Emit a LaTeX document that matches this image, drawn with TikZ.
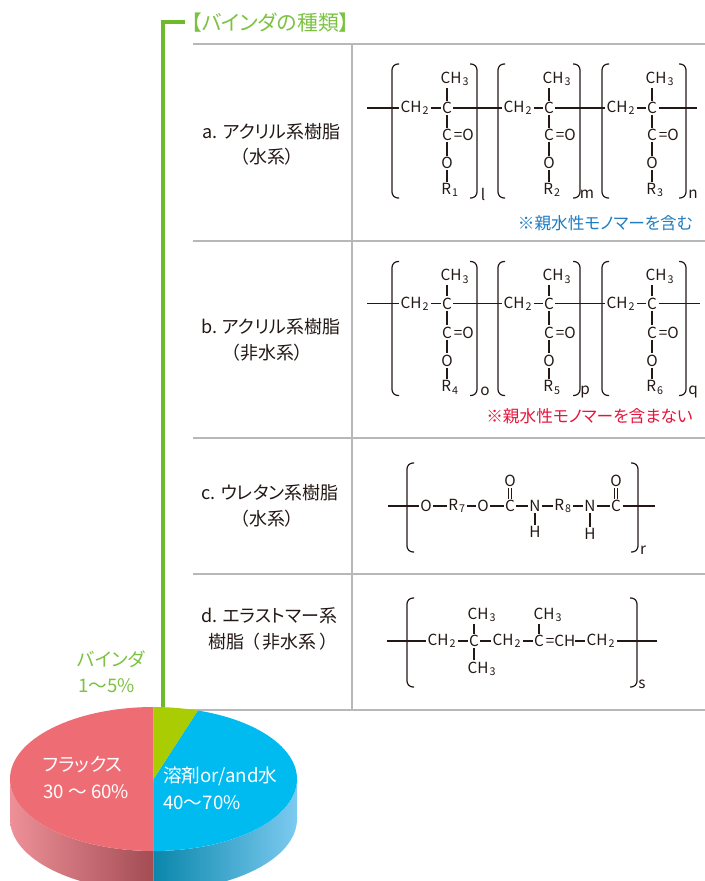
\documentclass[tikz,border=0pt]{standalone}
\usepackage{fontspec}
\setmainfont[RawFeature=+palt]{Noto Sans CJK JP}
\definecolor{rulegray}{RGB}{184, 184, 184}
\definecolor{bindergreen}{RGB}{111, 186, 44}
\definecolor{titlegreen}{RGB}{124, 194, 66}
\definecolor{inkblack}{RGB}{35, 24, 21}
\definecolor{noteblue}{RGB}{30, 125, 195}
\definecolor{notered}{RGB}{230, 20, 60}
\definecolor{fluxred}{RGB}{238, 109, 117}
\definecolor{fluxlight}{RGB}{238, 144, 152}
\definecolor{fluxdark}{RGB}{163, 76, 84}
\definecolor{solventblue}{RGB}{0, 187, 240}
\definecolor{solventlight}{RGB}{124, 202, 240}
\definecolor{solventdark}{RGB}{10, 134, 171}
\definecolor{pieslice}{RGB}{170, 204, 3}
\tikzset{
  rowlabel/.style={font=\fontsize{13.5}{15}\selectfont, text=inkblack, inner sep=0pt},
  atom/.style={font=\fontsize{11.5}{13}\selectfont, text=inkblack, inner sep=1pt},
  bond/.style={inkblack, line width=0.85pt},
  rulerline/.style={rulegray, line width=1.1pt},
  polybracket/.style={inkblack, line width=0.9pt, rounded corners=4.5pt},
  noteline/.style={font=\fontsize{12.5}{14}\selectfont, inner sep=0pt, anchor=east},
  pietext/.style={font=\fontsize{14}{16}\selectfont, text=white, inner sep=0pt, anchor=west},
  greentext/.style={font=\fontsize{14}{16}\selectfont, text=titlegreen, inner sep=0pt, anchor=west}
}
\newcommand{\polybrk}[4]{%
  \draw[polybracket] ({#1+7},#3) -- (#1,#3) -- (#1,#4) -- ({#1+7},#4);
  \draw[polybracket] ({#2-7},#3) -- (#2,#3) -- (#2,#4) -- ({#2-7},#4);
}
\newcommand{\chemsub}[1]{\kern0.8pt\textsubscript{#1}}
\begin{document}
\begin{tikzpicture}[x=0.75pt, y=-0.75pt]
  \clip (0, 0) rectangle (705, 881);
  \useasboundingbox (0, 0) rectangle (705, 881);

  % green leader and title
  \coordinate (leadtop) at (185, 22);
  \coordinate (leadcorner) at (163, 22);
  \coordinate (leadend) at (163, 712);
  \draw[bindergreen, line width=2.6pt] (leadtop) -- (leadcorner) -- (leadend);
  \node[greentext, font=\fontsize{15.6}{17}\selectfont] (title) at (191, 23) {【バインダの種類】};

  % table rules
  \draw[rulerline] (193, 44) -- (705, 44);
  \draw[rulerline] (193, 241) -- (705, 241);
  \draw[rulerline] (193, 438) -- (705, 438);
  \draw[rulerline] (193, 574) -- (705, 574);
  \draw[rulerline] (163, 710) -- (705, 710);
  \draw[rulerline] (352, 44) -- (352, 710);

  % row labels
  \node[rowlabel, anchor=west] (rowa) at (202, 132) {a. アクリル系樹脂};
  \node[rowlabel] (rowasub) at (267, 157) {（水系）};
  \node[rowlabel, anchor=west] (rowb) at (201, 327) {b. アクリル系樹脂};
  \node[rowlabel] (rowbsub) at (267, 353) {（非水系）};
  \node[rowlabel, anchor=west] (rowc) at (201, 493) {c. ウレタン系樹脂};
  \node[rowlabel] (rowcsub) at (267, 519) {（水系）};
  \node[rowlabel, anchor=west] (rowd) at (201, 616) {d. エラストマー系};
  \node[rowlabel, anchor=west] (rowdsub) at (208, 642) {樹脂\kern5pt（\kern2pt非水系\kern3pt）};

  % acrylic units, rows a and b
  \foreach \u/\y/\z/\xl/\xh/\xc/\xr/\rn/\idx/\xi in {
    1/108/108/392/415/447/477/1/l/483, 2/108/108/498/518/549/580/2/m/587, 3/108/108/602/621/652/686/3/n/693,
    4/303.5/305.5/392/415/447/477/4/o/485, 5/303.5/305.5/498/518/549/580/5/p/585, 6/303.5/305.5/602/621/652/686/6/q/693}
  {
    \polybrk{\xl}{\xr}{\z-44}{\z+90}
    \node[atom] (h\u) at (\xh, \y) {CH\chemsub{2}};
    \node[atom] (c\u) at (\xc, \y) {C};
    \node[atom] (me\u) at ({\xc+8}, {\z-29}) {CH\chemsub{3}};
    \node[atom] (co\u) at (\xc, {\z+27}) {C};
    \node[atom, anchor=west, inner sep=0pt] (dbl\u) at (co\u.east) {=O};
    \node[atom] (ox\u) at (\xc, {\z+55}) {O};
    \node[atom] (r\u) at ({\xc+3}, {\z+82}) {R\chemsub{\rn}};
    \node[atom] (idx\u) at (\xi, {\z+86}) {\idx};
    \draw[bond] (h\u) -- (c\u);
    \draw[bond] (c\u) -- (c\u |- me\u.south);
    \draw[bond] (c\u) -- (co\u);
    \draw[bond] (co\u) -- (ox\u);
    \draw[bond] (ox\u) -- (ox\u |- r\u.north);
  }
  \coordinate (froma) at (367, 108);
  \coordinate (toa) at (697, 108);
  \coordinate (fromb) at (367, 303.5);
  \coordinate (tob) at (700, 303.5);
  \draw[bond] (froma) -- (h1);
  \draw[bond] (c1) -- (h2);
  \draw[bond] (c2) -- (h3);
  \draw[bond] (c3) -- (toa);
  \draw[bond] (fromb) -- (h4);
  \draw[bond] (c4) -- (h5);
  \draw[bond] (c5) -- (h6);
  \draw[bond] (c6) -- (tob);

  \node[noteline, text=noteblue] (notea) at (693, 223) {※親水性モノマーを含む};
  \node[noteline, text=notered] (noteb) at (693, 416) {※親水性モノマーを含まない};

  % urethane
  \polybrk{407}{638}{463}{552}
  \coordinate (fromc) at (388, 506);
  \coordinate (toc) at (655, 506);
  \node[atom] (uo1) at (426, 506) {O};
  \node[atom] (ur7) at (457, 506) {R\chemsub{7}};
  \node[atom] (uo2) at (483, 506) {O};
  \node[atom] (uc1) at (510, 506) {C};
  \node[atom] (uo3) at (510, 481) {O};
  \node[atom] (un1) at (535, 506) {N};
  \node[atom] (uh1) at (535, 532) {H};
  \node[atom] (ur8) at (563, 506) {R\chemsub{8}};
  \node[atom] (un2) at (590, 506) {N};
  \node[atom] (uh2) at (590, 534) {H};
  \node[atom] (uc2) at (616, 506) {C};
  \node[atom] (uo4) at (616, 481) {O};
  \node[atom] (idxr) at (643, 550) {r};
  \draw[bond] (fromc) -- (uo1);
  \draw[bond] (uo1) -- (ur7);
  \draw[bond] (ur7) -- (uo2);
  \draw[bond] (uo2) -- (uc1);
  \draw[bond] (uc1) -- (un1);
  \draw[bond] (un1) -- (ur8);
  \draw[bond] (ur8) -- (un2);
  \draw[bond] (un2) -- (uc2);
  \draw[bond] (uc2) -- (toc);
  \draw[bond] (un1) -- (uh1);
  \draw[bond] (un2) -- (uh2);
  \draw[bond, double, double distance=1.6pt, line width=0.5pt] (uc1) -- (uo3);
  \draw[bond, double, double distance=1.6pt, line width=0.5pt] (uc2) -- (uo4);

  % elastomer
  \polybrk{407}{637}{598}{687}
  \coordinate (fromd) at (387, 641);
  \coordinate (tod) at (657, 641);
  \node[atom] (eh1) at (442, 641) {CH\chemsub{2}};
  \node[atom] (ec1) at (474, 641) {C};
  \node[atom] (eme1) at (482, 615) {CH\chemsub{3}};
  \node[atom] (eme2) at (482, 669) {CH\chemsub{3}};
  \node[atom] (eh2) at (507, 641) {CH\chemsub{2}};
  \node[atom] (ec2) at (539, 641) {C};
  \node[atom] (eme3) at (548, 615) {CH\chemsub{3}};
  \node[atom, anchor=west, inner sep=0pt] (ech) at (ec2.east) {=CH};
  \node[atom] (eh3) at (601, 641) {CH\chemsub{2}};
  \node[atom] (idxs) at (642, 684) {s};
  \draw[bond] (fromd) -- (eh1);
  \draw[bond] (eh1) -- (ec1);
  \draw[bond] (ec1) -- (eh2);
  \draw[bond] (eh2) -- (ec2);
  \draw[bond] (ech) -- (eh3);
  \draw[bond] (eh3) -- (tod);
  \draw[bond] (ec1) -- (ec1 |- eme1.south);
  \draw[bond] (ec1) -- (ec1 |- eme2.north);
  \draw[bond] (ec2) -- (ec2 |- eme3.south);

  % pie
  \begin{scope}[shift={(153.5, 779)}, x=0.75pt, y=0.75pt]
    \shade[left color=fluxlight, right color=fluxdark]
      (-143.5, 0) arc[start angle=180, end angle=270, x radius=143.5, y radius=72]
      -- (0, -112) arc[start angle=270, end angle=180, x radius=143.5, y radius=72] -- cycle;
    \shade[left color=solventdark, right color=solventlight]
      (143.5, 0) arc[start angle=0, end angle=-90, x radius=143.5, y radius=72]
      -- (0, -112) arc[start angle=-90, end angle=0, x radius=143.5, y radius=72] -- cycle;
    \fill[fluxred] (0, 72) arc[start angle=90, end angle=270, x radius=143.5, y radius=72] -- cycle;
    \fill[solventblue] (0, 0) -- (44.3, 68.5) arc[start angle=72, end angle=-90, x radius=143.5, y radius=72] -- cycle;
    \fill[pieslice] (0, 0) -- (0, 72) arc[start angle=90, end angle=72, x radius=143.5, y radius=72] -- cycle;
  \end{scope}

  \node[greentext] (bindername) at (77, 659) {バインダ};
  \node[greentext] (binderval) at (78, 686) {1〜5\%};
  \node[pietext] (fluxname) at (43, 765) {フラックス};
  \node[pietext] (fluxval) at (43, 792) {30 ～ 60\%};
  \node[pietext] (solvname) at (163, 776) {溶剤or/and水};
  \node[pietext] (solvval) at (163, 803) {40〜70\%};
\end{tikzpicture}
\end{document}
